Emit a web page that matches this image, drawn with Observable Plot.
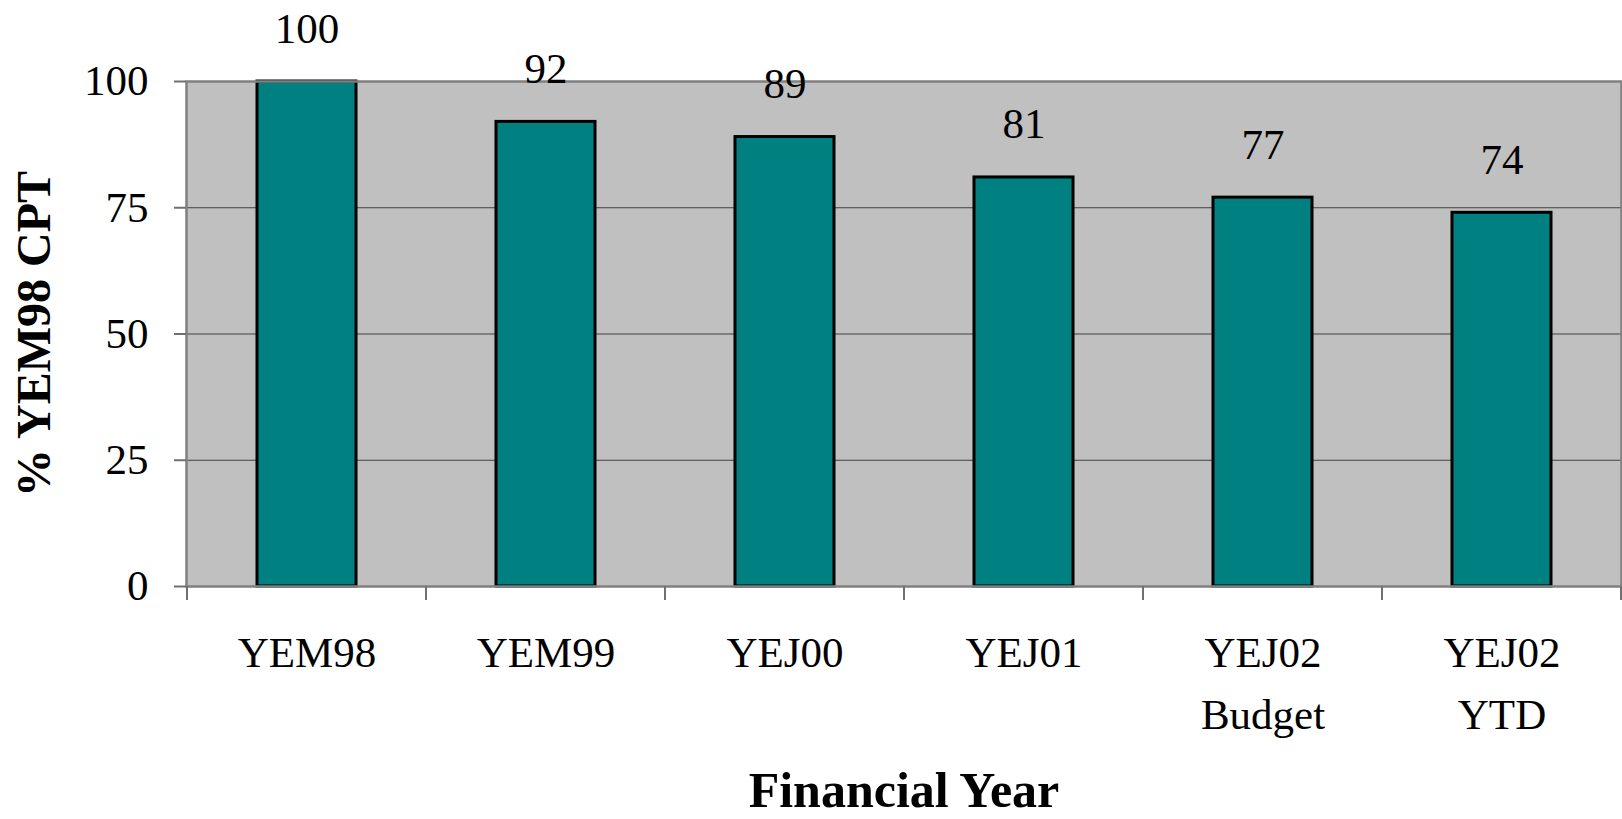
<!DOCTYPE html>
<html><head><meta charset="utf-8">
<script src="https://cdn.jsdelivr.net/npm/d3@7"></script>
<script src="https://cdn.jsdelivr.net/npm/@observablehq/plot@0.6"></script>
<style>body{margin:0;background:#fff} svg{display:block}</style>
</head><body><div id="chart"></div>
<script>
const categories = ["YEM98", "YEM99", "YEJ00", "YEJ01", "YEJ02\nBudget", "YEJ02\nYTD"];
const values = [100, 92, 89, 81, 77, 74];
const yTicks = [0, 25, 50, 75, 100];
const gridValues = [25, 50, 75];
const yTitle = "% YEM98 CPT";
const xTitle = "Financial Year";

const data = categories.map((c, i) => ({category: c, value: values[i]}));
const serif = "'Liberation Serif', 'Times New Roman', serif";

// category boundary ticks (Excel-style ticks between categories)
const boundaryTicks = (index, scales) => {
  const x = scales.x;
  const step = typeof x.step === "function" ? x.step() : scales.scales.x.step;
  const bw = typeof x.bandwidth === "function" ? x.bandwidth() : scales.scales.x.bandwidth;
  const off = (step - bw) / 2;
  const xs = categories.map(c => x(c) - off);
  xs.push(x(categories[categories.length - 1]) + bw + off);
  const y0 = scales.y(0);
  const g = d3.create("svg:g");
  for (const xv of xs) {
    g.append("line").attr("x1", xv).attr("x2", xv).attr("y1", y0).attr("y2", y0 + 14)
      .attr("stroke", "#707070").attr("stroke-width", 2);
  }
  return g.node();
};

const chart = Plot.plot({
  width: 1622,
  height: 819,
  marginLeft: 186,
  marginRight: 1,
  marginTop: 81,
  marginBottom: 233,
  style: {fontFamily: serif, background: "#ffffff", overflow: "visible", color: "#000"},
  x: {type: "band", domain: categories, paddingInner: 0.586, paddingOuter: 0.293, label: null},
  y: {domain: [0, 100], label: null},
  marks: [
    Plot.frame({fill: "#c0c0c0", stroke: null}),
    Plot.ruleY(gridValues, {stroke: "#404040", strokeWidth: 1}),
    Plot.barY(data, {x: "category", y: "value", fill: "#008080", stroke: "#000", strokeWidth: 3}),
    Plot.frame({stroke: "#808080", strokeWidth: 2.5}),
    Plot.axisY({ticks: yTicks, tickSize: 12, tickPadding: 26, fontSize: 43, stroke: "#707070", strokeWidth: 2, label: null}),
    Plot.axisX({tickSize: 0, tickPadding: 36, fontSize: 43, lineHeight: 1.45, label: null}),
    boundaryTicks,
    Plot.text(data, {x: "category", y: "value", text: d => String(d.value), dy: -39, lineAnchor: "bottom", fontSize: 43}),
    Plot.text([yTitle], {frameAnchor: "left", dx: -152, rotate: -90, textAnchor: "middle", lineAnchor: "middle", fontSize: 48, fontWeight: "bold"}),
    Plot.text([xTitle], {frameAnchor: "bottom", dy: 204, textAnchor: "middle", lineAnchor: "middle", fontSize: 50, fontWeight: "bold"})
  ]
});
document.getElementById("chart").append(chart);
</script>
</body></html>
